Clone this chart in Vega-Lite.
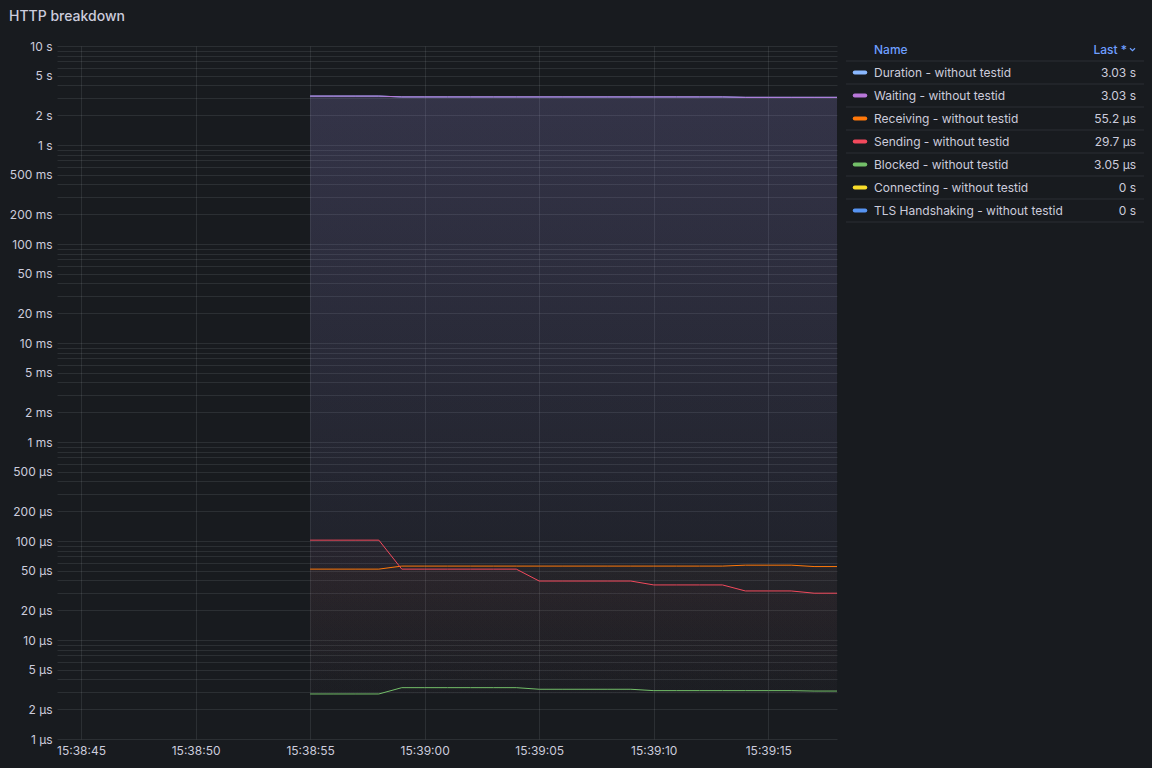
{
  "$schema": "https://vega.github.io/schema/vega-lite/v6.json",
  "background": "#181b1f",
  "autosize": "none",
  "padding": {"left": 57, "top": 46, "right": 315, "bottom": 29},
  "width": 780,
  "height": 693,
  "title": {"text": "HTTP breakdown", "anchor": "start", "frame": "group", "dx": -48, "offset": 16, "fontSize": 14, "fontWeight": 500, "color": "#ccccdc", "font": "Inter"},
  "datasets": {
    "main": [
      {"t": "2024-01-01T15:38:55", "Duration - without testid": 3.1202, "Waiting - without testid": 3.12, "Receiving - without testid": 5.2e-5, "Sending - without testid": 1.02e-4, "Blocked - without testid": 2.85e-6, "Connecting - without testid": 0, "TLS Handshaking - without testid": 0},
      {"t": "2024-01-01T15:38:56", "Duration - without testid": 3.1202, "Waiting - without testid": 3.12, "Receiving - without testid": 5.2e-5, "Sending - without testid": 1.02e-4, "Blocked - without testid": 2.85e-6, "Connecting - without testid": 0, "TLS Handshaking - without testid": 0},
      {"t": "2024-01-01T15:38:57", "Duration - without testid": 3.1202, "Waiting - without testid": 3.12, "Receiving - without testid": 5.2e-5, "Sending - without testid": 1.02e-4, "Blocked - without testid": 2.85e-6, "Connecting - without testid": 0, "TLS Handshaking - without testid": 0},
      {"t": "2024-01-01T15:38:58", "Duration - without testid": 3.1202, "Waiting - without testid": 3.12, "Receiving - without testid": 5.2e-5, "Sending - without testid": 1.02e-4, "Blocked - without testid": 2.85e-6, "Connecting - without testid": 0, "TLS Handshaking - without testid": 0},
      {"t": "2024-01-01T15:38:59", "Duration - without testid": 3.0602, "Waiting - without testid": 3.06, "Receiving - without testid": 5.58e-5, "Sending - without testid": 5.2e-5, "Blocked - without testid": 3.3e-6, "Connecting - without testid": 0, "TLS Handshaking - without testid": 0},
      {"t": "2024-01-01T15:39:00", "Duration - without testid": 3.0602, "Waiting - without testid": 3.06, "Receiving - without testid": 5.58e-5, "Sending - without testid": 5.2e-5, "Blocked - without testid": 3.3e-6, "Connecting - without testid": 0, "TLS Handshaking - without testid": 0},
      {"t": "2024-01-01T15:39:01", "Duration - without testid": 3.0602, "Waiting - without testid": 3.06, "Receiving - without testid": 5.58e-5, "Sending - without testid": 5.2e-5, "Blocked - without testid": 3.3e-6, "Connecting - without testid": 0, "TLS Handshaking - without testid": 0},
      {"t": "2024-01-01T15:39:02", "Duration - without testid": 3.0602, "Waiting - without testid": 3.06, "Receiving - without testid": 5.58e-5, "Sending - without testid": 5.2e-5, "Blocked - without testid": 3.3e-6, "Connecting - without testid": 0, "TLS Handshaking - without testid": 0},
      {"t": "2024-01-01T15:39:03", "Duration - without testid": 3.0602, "Waiting - without testid": 3.06, "Receiving - without testid": 5.58e-5, "Sending - without testid": 5.2e-5, "Blocked - without testid": 3.3e-6, "Connecting - without testid": 0, "TLS Handshaking - without testid": 0},
      {"t": "2024-01-01T15:39:04", "Duration - without testid": 3.0602, "Waiting - without testid": 3.06, "Receiving - without testid": 5.58e-5, "Sending - without testid": 5.2e-5, "Blocked - without testid": 3.3e-6, "Connecting - without testid": 0, "TLS Handshaking - without testid": 0},
      {"t": "2024-01-01T15:39:05", "Duration - without testid": 3.0602, "Waiting - without testid": 3.06, "Receiving - without testid": 5.58e-5, "Sending - without testid": 3.94e-5, "Blocked - without testid": 3.18e-6, "Connecting - without testid": 0, "TLS Handshaking - without testid": 0},
      {"t": "2024-01-01T15:39:06", "Duration - without testid": 3.0602, "Waiting - without testid": 3.06, "Receiving - without testid": 5.58e-5, "Sending - without testid": 3.94e-5, "Blocked - without testid": 3.18e-6, "Connecting - without testid": 0, "TLS Handshaking - without testid": 0},
      {"t": "2024-01-01T15:39:07", "Duration - without testid": 3.0602, "Waiting - without testid": 3.06, "Receiving - without testid": 5.58e-5, "Sending - without testid": 3.94e-5, "Blocked - without testid": 3.18e-6, "Connecting - without testid": 0, "TLS Handshaking - without testid": 0},
      {"t": "2024-01-01T15:39:08", "Duration - without testid": 3.0602, "Waiting - without testid": 3.06, "Receiving - without testid": 5.58e-5, "Sending - without testid": 3.94e-5, "Blocked - without testid": 3.18e-6, "Connecting - without testid": 0, "TLS Handshaking - without testid": 0},
      {"t": "2024-01-01T15:39:09", "Duration - without testid": 3.0602, "Waiting - without testid": 3.06, "Receiving - without testid": 5.58e-5, "Sending - without testid": 3.94e-5, "Blocked - without testid": 3.18e-6, "Connecting - without testid": 0, "TLS Handshaking - without testid": 0},
      {"t": "2024-01-01T15:39:10", "Duration - without testid": 3.0602, "Waiting - without testid": 3.06, "Receiving - without testid": 5.58e-5, "Sending - without testid": 3.6e-5, "Blocked - without testid": 3.08e-6, "Connecting - without testid": 0, "TLS Handshaking - without testid": 0},
      {"t": "2024-01-01T15:39:11", "Duration - without testid": 3.0602, "Waiting - without testid": 3.06, "Receiving - without testid": 5.58e-5, "Sending - without testid": 3.6e-5, "Blocked - without testid": 3.08e-6, "Connecting - without testid": 0, "TLS Handshaking - without testid": 0},
      {"t": "2024-01-01T15:39:12", "Duration - without testid": 3.0602, "Waiting - without testid": 3.06, "Receiving - without testid": 5.58e-5, "Sending - without testid": 3.6e-5, "Blocked - without testid": 3.08e-6, "Connecting - without testid": 0, "TLS Handshaking - without testid": 0},
      {"t": "2024-01-01T15:39:13", "Duration - without testid": 3.0602, "Waiting - without testid": 3.06, "Receiving - without testid": 5.58e-5, "Sending - without testid": 3.6e-5, "Blocked - without testid": 3.08e-6, "Connecting - without testid": 0, "TLS Handshaking - without testid": 0},
      {"t": "2024-01-01T15:39:14", "Duration - without testid": 3.0302, "Waiting - without testid": 3.03, "Receiving - without testid": 5.7e-5, "Sending - without testid": 3.13e-5, "Blocked - without testid": 3.08e-6, "Connecting - without testid": 0, "TLS Handshaking - without testid": 0},
      {"t": "2024-01-01T15:39:15", "Duration - without testid": 3.0302, "Waiting - without testid": 3.03, "Receiving - without testid": 5.7e-5, "Sending - without testid": 3.13e-5, "Blocked - without testid": 3.08e-6, "Connecting - without testid": 0, "TLS Handshaking - without testid": 0},
      {"t": "2024-01-01T15:39:16", "Duration - without testid": 3.0302, "Waiting - without testid": 3.03, "Receiving - without testid": 5.7e-5, "Sending - without testid": 3.13e-5, "Blocked - without testid": 3.08e-6, "Connecting - without testid": 0, "TLS Handshaking - without testid": 0},
      {"t": "2024-01-01T15:39:17", "Duration - without testid": 3.0302, "Waiting - without testid": 3.03, "Receiving - without testid": 5.52e-5, "Sending - without testid": 2.97e-5, "Blocked - without testid": 3.05e-6, "Connecting - without testid": 0, "TLS Handshaking - without testid": 0},
      {"t": "2024-01-01T15:39:18", "Duration - without testid": 3.0302, "Waiting - without testid": 3.03, "Receiving - without testid": 5.52e-5, "Sending - without testid": 2.97e-5, "Blocked - without testid": 3.05e-6, "Connecting - without testid": 0, "TLS Handshaking - without testid": 0}
    ],
    "header": [
      {"row": "__header", "pos": "name", "label": "Name"},
      {"row": "__header", "pos": "last", "label": "Last *"}
    ]
  },
  "layer": [
    {
      "data": {"name": "main"},
      "transform": [
        {"fold": ["Duration - without testid", "Waiting - without testid", "Receiving - without testid", "Sending - without testid", "Blocked - without testid", "Connecting - without testid", "TLS Handshaking - without testid"], "as": ["series", "value"]},
        {"filter": "datum.value > 0"},
        {"joinaggregate": [{"op": "min", "field": "value", "as": "base"}]}
      ],
      "encoding": {
        "x": {
          "field": "t", "type": "temporal",
          "scale": {"domain": [
            {"year": 2024, "month": 1, "date": 1, "hours": 15, "minutes": 38, "seconds": 43, "milliseconds": 950},
            {"year": 2024, "month": 1, "date": 1, "hours": 15, "minutes": 39, "seconds": 18}
          ]},
          "axis": {
            "title": null, "format": "%H:%M:%S", "grid": true, "domain": false, "ticks": false, "labelPadding": 6, "labelFlush": false, "labelOverlap": false,
            "values": [
              {"year": 2024, "month": 1, "date": 1, "hours": 15, "minutes": 38, "seconds": 45},
              {"year": 2024, "month": 1, "date": 1, "hours": 15, "minutes": 38, "seconds": 50},
              {"year": 2024, "month": 1, "date": 1, "hours": 15, "minutes": 38, "seconds": 55},
              {"year": 2024, "month": 1, "date": 1, "hours": 15, "minutes": 39, "seconds": 0},
              {"year": 2024, "month": 1, "date": 1, "hours": 15, "minutes": 39, "seconds": 5},
              {"year": 2024, "month": 1, "date": 1, "hours": 15, "minutes": 39, "seconds": 10},
              {"year": 2024, "month": 1, "date": 1, "hours": 15, "minutes": 39, "seconds": 15}
            ]
          }
        },
        "y": {
          "field": "value", "type": "quantitative",
          "scale": {"type": "log", "domain": [1e-6, 10], "nice": false},
          "axis": {
            "title": null, "grid": true, "domain": false, "ticks": false, "labelPadding": 5, "labelOverlap": false, "labelFlush": false,
            "values": [1e-6, 2e-6, 3e-6, 4e-6, 5e-6, 6e-6, 7e-6, 8e-6, 9e-6, 1e-5, 2e-5, 3e-5, 4e-5, 5e-5, 6e-5, 7e-5, 8e-5, 9e-5, 1e-4, 2e-4, 3e-4, 4e-4, 5e-4, 6e-4, 7e-4, 8e-4, 9e-4, 0.001, 0.002, 0.003, 0.004, 0.005, 0.006, 0.007, 0.008, 0.009, 0.01, 0.02, 0.03, 0.04, 0.05, 0.06, 0.07, 0.08, 0.09, 0.1, 0.2, 0.3, 0.4, 0.5, 0.6, 0.7, 0.8, 0.9, 1, 2, 3, 4, 5, 6, 7, 8, 9, 10],
            "labelExpr": "(round(datum.value / pow(10, floor(log(datum.value) / LN10 + 0.000001))) == 1 || round(datum.value / pow(10, floor(log(datum.value) / LN10 + 0.000001))) == 2 || round(datum.value / pow(10, floor(log(datum.value) / LN10 + 0.000001))) == 5) ? (datum.value >= 0.999 ? round(datum.value) + ' s' : datum.value >= 0.000999 ? round(datum.value * 1000) + ' ms' : round(datum.value * 1000000) + ' µs') : ''"
          }
        }
      },
      "layer": [
        {
          "transform": [{"filter": "datum.series == 'Duration - without testid'"}],
          "mark": {"type": "area", "fill": {"gradient": "linear", "x1": 0, "y1": 0, "x2": 0, "y2": 1, "stops": [{"offset": 0, "color": "rgba(138,184,255,0.105)"}, {"offset": 1, "color": "rgba(138,184,255,0.006)"}]}},
          "encoding": {"y2": {"field": "base"}}
        },
        {
          "transform": [{"filter": "datum.series == 'Waiting - without testid'"}],
          "mark": {"type": "area", "fill": {"gradient": "linear", "x1": 0, "y1": 0, "x2": 0, "y2": 1, "stops": [{"offset": 0, "color": "rgba(184,119,217,0.105)"}, {"offset": 1, "color": "rgba(184,119,217,0.006)"}]}},
          "encoding": {"y2": {"field": "base"}}
        },
        {
          "transform": [{"filter": "datum.series == 'Receiving - without testid'"}],
          "mark": {"type": "area", "fill": {"gradient": "linear", "x1": 0, "y1": 0, "x2": 0, "y2": 1, "stops": [{"offset": 0, "color": "rgba(255,120,10,0.028)"}, {"offset": 1, "color": "rgba(255,120,10,0.004)"}]}},
          "encoding": {"y2": {"field": "base"}}
        },
        {
          "transform": [{"filter": "datum.series == 'Sending - without testid'"}],
          "mark": {"type": "area", "fill": {"gradient": "linear", "x1": 0, "y1": 0, "x2": 0, "y2": 1, "stops": [{"offset": 0, "color": "rgba(242,73,92,0.032)"}, {"offset": 1, "color": "rgba(242,73,92,0.004)"}]}},
          "encoding": {"y2": {"field": "base"}}
        },
        {
          "mark": {"type": "line", "strokeWidth": 1},
          "encoding": {
            "color": {
              "field": "series", "type": "nominal", "legend": null,
              "scale": {
                "domain": ["Duration - without testid", "Waiting - without testid", "Receiving - without testid", "Sending - without testid", "Blocked - without testid", "Connecting - without testid", "TLS Handshaking - without testid"],
                "range": ["#8AB8FF", "#B877D9", "#FF780A", "#F2495C", "#73BF69", "#FADE2A", "#5794F2"]
              }
            }
          }
        }
      ]
    },
    {
      "encoding": {
        "y": {
          "field": "row", "type": "nominal", "axis": null,
          "scale": {
            "domain": ["__header", "Duration - without testid", "Waiting - without testid", "Receiving - without testid", "Sending - without testid", "Blocked - without testid", "Connecting - without testid", "TLS Handshaking - without testid"],
            "range": [-8, 176], "paddingInner": 0, "paddingOuter": 0
          }
        }
      },
      "layer": [
        {
          "data": {"name": "header"},
          "transform": [{"filter": "datum.pos == 'name'"}],
          "layer": [
            {
              "mark": {"type": "rule", "color": "#2b2e35", "strokeWidth": 1},
              "encoding": {
                "y": {"field": "row", "type": "nominal", "bandPosition": 1},
                "x": {"datum": 0, "type": "quantitative", "scale": {"domain": [0, 298], "range": [789, 1087], "nice": false, "zero": false}, "axis": null},
                "x2": {"datum": 298}
              }
            },
            {
              "mark": {"type": "text", "align": "left", "baseline": "middle", "font": "Inter", "fontSize": 12, "fontWeight": 500, "color": "#6E9FFF"},
              "encoding": {
                "x": {"datum": 28, "type": "quantitative"},
                "text": {"field": "label"}
              }
            }
          ]
        },
        {
          "data": {"name": "header"},
          "transform": [{"filter": "datum.pos == 'last'"}],
          "layer": [
            {
              "mark": {"type": "text", "align": "right", "baseline": "middle", "font": "Inter", "fontSize": 12, "fontWeight": 500, "color": "#6E9FFF"},
              "encoding": {
                "x": {"datum": 281, "type": "quantitative"},
                "text": {"field": "label"}
              }
            },
            {
              "mark": {"type": "point", "shape": "M-1,-0.5L0,0.5L1,-0.5", "filled": false, "strokeWidth": 1.2, "size": 25, "color": "#6E9FFF", "opacity": 1},
              "encoding": {"x": {"datum": 286.5, "type": "quantitative"}}
            }
          ]
        },
        {
          "data": {"name": "main"},
          "transform": [
            {"fold": ["Duration - without testid", "Waiting - without testid", "Receiving - without testid", "Sending - without testid", "Blocked - without testid", "Connecting - without testid", "TLS Handshaking - without testid"], "as": ["series", "value"]},
            {"aggregate": [{"op": "argmax", "field": "t", "as": "last"}], "groupby": ["series"]},
            {"calculate": "datum.series", "as": "row"},
            {"calculate": "datum.last.value == 0 ? '0 s' : datum.last.value >= 1 ? format(datum.last.value, '.3') + ' s' : datum.last.value >= 0.001 ? format(datum.last.value * 1000, '.3') + ' ms' : format(datum.last.value * 1000000, '.3') + ' µs'", "as": "lbl"}
          ],
          "layer": [
            {
              "mark": {"type": "rule", "color": "#2b2e35", "strokeWidth": 1},
              "encoding": {
                "y": {"field": "row", "type": "nominal", "bandPosition": 1},
                "x": {"datum": 0, "type": "quantitative"},
                "x2": {"datum": 298}
              }
            },
            {
              "mark": {"type": "point", "shape": "M-0.75,0L0.75,0", "filled": false, "strokeWidth": 4, "strokeCap": "round", "size": 196, "opacity": 1},
              "encoding": {
                "x": {"datum": 14, "type": "quantitative"},
                "color": {
                  "field": "row", "type": "nominal", "legend": null,
                  "scale": {
                    "domain": ["Duration - without testid", "Waiting - without testid", "Receiving - without testid", "Sending - without testid", "Blocked - without testid", "Connecting - without testid", "TLS Handshaking - without testid"],
                    "range": ["#8AB8FF", "#B877D9", "#FF780A", "#F2495C", "#73BF69", "#FADE2A", "#5794F2"]
                  }
                }
              }
            },
            {
              "mark": {"type": "text", "align": "left", "baseline": "middle", "font": "Inter", "fontSize": 12, "color": "#ccccdc"},
              "encoding": {"x": {"datum": 28, "type": "quantitative"}, "text": {"field": "row"}}
            },
            {
              "mark": {"type": "text", "align": "right", "baseline": "middle", "font": "Inter", "fontSize": 12, "color": "#ccccdc"},
              "encoding": {"x": {"datum": 290, "type": "quantitative"}, "text": {"field": "lbl"}}
            }
          ]
        }
      ]
    }
  ],
  "resolve": {"scale": {"x": "independent", "y": "independent"}, "axis": {"x": "independent", "y": "independent"}},
  "config": {
    "view": {"stroke": null},
    "font": "Inter",
    "axis": {"labelColor": "#ccccdc", "labelFont": "Inter", "labelFontSize": 12, "gridColor": "rgba(240,250,255,0.09)", "gridWidth": 1}
  }
}
